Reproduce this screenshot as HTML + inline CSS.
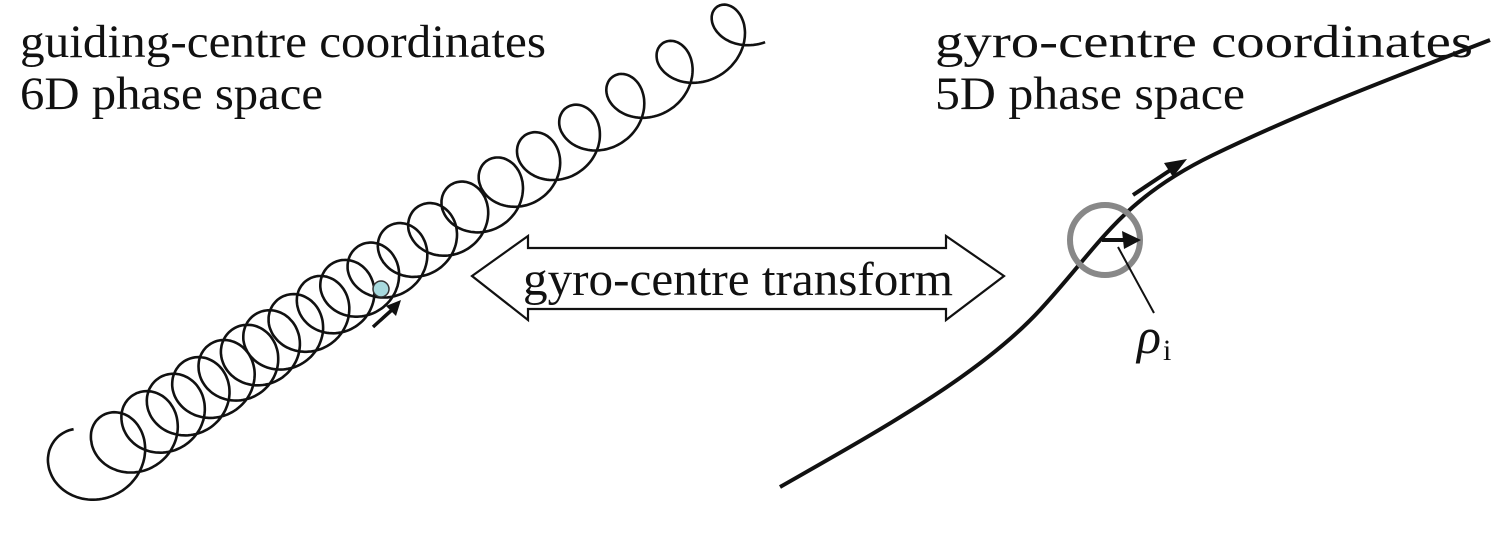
<!DOCTYPE html>
<html><head><meta charset="utf-8"><style>
html,body{margin:0;padding:0;background:#fff;}
svg{display:block;}
text{font-family:"Liberation Serif",serif;fill:#111;}
</style></head><body>
<svg id="s" width="1501" height="537" viewBox="0 0 1501 537" xmlns="http://www.w3.org/2000/svg">
<text x="20" y="57" font-size="47" textLength="526" lengthAdjust="spacingAndGlyphs">guiding-centre coordinates</text>
<text x="20" y="109" font-size="47" textLength="303" lengthAdjust="spacingAndGlyphs">6D phase space</text>
<text x="935" y="57" font-size="47" textLength="538" lengthAdjust="spacingAndGlyphs">gyro-centre coordinates</text>
<text x="935" y="109" font-size="47" textLength="310" lengthAdjust="spacingAndGlyphs">5D phase space</text>
<path id="helix" fill="none" stroke="#111" stroke-width="2.6" d=""/>
<circle cx="381" cy="289" r="8" fill="#a8dade" stroke="#333" stroke-width="1.5"/>
<path d="M373,327 Q385,316 393,309" fill="none" stroke="#111" stroke-width="3.5"/>
<polygon points="401,300 386,306 396,316" fill="#111"/>
<polygon points="472,276 528,236 528,248 946,248 946,236 1004,276 946,320 946,309 528,309 528,320" fill="#fff" stroke="#111" stroke-width="2.2"/>
<text x="523" y="295" font-size="48" textLength="430" lengthAdjust="spacingAndGlyphs">gyro-centre transform</text>
<path d="M780,487 C880,430 980,375 1040,310 S1120,200 1213,155 S1400,75 1490,40" fill="none" stroke="#111" stroke-width="4"/>
<circle cx="1105" cy="240" r="35" fill="none" stroke="#888" stroke-width="6"/>
<line x1="1102" y1="240" x2="1125" y2="240" stroke="#111" stroke-width="4"/>
<polygon points="1141,240 1122,231 1124,249" fill="#111"/>
<line x1="1118" y1="247" x2="1154" y2="313" stroke="#111" stroke-width="2"/>
<line x1="1133" y1="195" x2="1172" y2="169" stroke="#111" stroke-width="4"/>
<polygon points="1187,159 1164,163 1173,177" fill="#111"/>
<text x="1137" y="353" font-size="50" font-style="italic">ρ</text>
<text x="1163" y="360" font-size="30">i</text>
</svg>
<script>
(function(){
var cx=[90,127,157,182,207,233,255,277,302,330,353,380,410,440,473,510,548,590,637,687,742];
function X(k){
 if(k<0) return cx[0]+(cx[1]-cx[0])*k;
 if(k>=cx.length-1){var n=cx.length-1;return cx[n]+(cx[n]-cx[n-1])*(k-n);}
 var i=Math.floor(k),f=k-i;return cx[i]+(cx[i+1]-cx[i])*f;}
function Y(x){return 473-(x-90)*(442/652);}
var d="",first=true;
for(var k=-0.22;k<=20.3;k+=0.01){
 var x=X(k),y=Y(x);
 var r=36-7*(k/20);
 if(k<0.6) r+=8*Math.pow((0.6-k)/0.82,1.3);
 var th=Math.PI-2*Math.PI*k;
 var px=x+r*Math.cos(th), py=y-6+r*Math.sin(th);
 d+=(first?"M":"L")+px.toFixed(1)+","+py.toFixed(1)+" ";first=false;}
document.getElementById("helix").setAttribute("d",d);
})();
</script>
</body></html>
